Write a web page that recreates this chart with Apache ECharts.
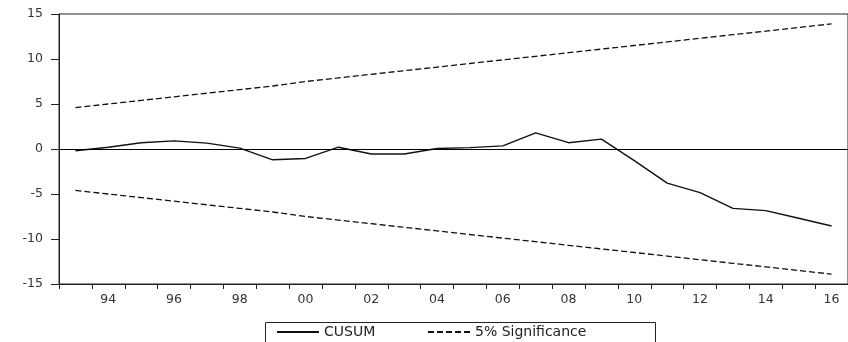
<!DOCTYPE html>
<html>
<head>
<meta charset="utf-8">
<script src="https://cdn.jsdelivr.net/npm/echarts@6/dist/echarts.min.js"></script>
<style>
html,body{margin:0;padding:0;background:#fff;}
#chart{width:848px;height:342px;}
</style>
</head>
<body>
<div id="chart"></div>
<script>
var years = ['1993','1994','1995','1996','1997','1998','1999','2000','2001','2002','2003','2004','2005','2006','2007','2008','2009','2010','2011','2012','2013','2014','2015','2016'];
var cusum = [-0.2, 0.2, 0.7, 0.9, 0.65, 0.1, -1.2, -1.05, 0.2, -0.55, -0.55, 0.05, 0.15, 0.35, 1.8, 0.7, 1.1, -1.3, -3.8, -4.85, -6.6, -6.85, -7.7, -8.55];
var upper5 = [4.6, 5.0, 5.4, 5.8, 6.2, 6.6, 7.0, 7.5, 7.9, 8.3, 8.7, 9.1, 9.5, 9.9, 10.3, 10.7, 11.1, 11.5, 11.9, 12.3, 12.7, 13.1, 13.5, 13.9];
var lower5 = [-4.6, -5.0, -5.4, -5.8, -6.2, -6.6, -7.0, -7.5, -7.9, -8.3, -8.7, -9.1, -9.5, -9.9, -10.3, -10.7, -11.1, -11.5, -11.9, -12.3, -12.7, -13.1, -13.5, -13.9];
var yTicks = {min: -15, max: 15, interval: 5};
var seriesNames = ['CUSUM', '5% Significance'];

var chart = echarts.init(document.getElementById('chart'), null, {renderer: 'canvas'});
var font = 'DejaVu Sans';
var legendText = {fontFamily: font, fontSize: 14, color: '#222'};
chart.setOption({
  animation: false,
  backgroundColor: '#fff',
  grid: {left: 59, top: 14, width: 797, height: 270, show: true, borderColor: '#222', borderWidth: 1, backgroundColor: 'transparent'},
  xAxis: {
    type: 'category', data: years, boundaryGap: true,
    axisLine: {show: true, onZero: false, lineStyle: {color: '#222', width: 1}},
    axisTick: {show: true, interval: 0, length: 5, inside: false, lineStyle: {color: '#222'}},
    axisLabel: {
      interval: function (i, v) { return (+v) % 2 === 0; },
      formatter: function (v) { return v.slice(2); },
      color: '#333', fontFamily: font, fontSize: 12.5, margin: 9
    },
    splitLine: {show: false}
  },
  yAxis: {
    type: 'value', min: yTicks.min, max: yTicks.max, interval: yTicks.interval,
    axisLine: {show: true, lineStyle: {color: '#222', width: 1}},
    axisTick: {show: true, length: 8, inside: false, lineStyle: {color: '#222'}},
    axisLabel: {color: '#333', fontFamily: font, fontSize: 12.5, margin: 16},
    splitLine: {show: false}
  },
  legend: [{
    data: [seriesNames[0]], left: 276, top: 325, itemWidth: 42, itemHeight: 10,
    itemStyle: {opacity: 0}, textStyle: legendText, padding: 0
  }, {
    data: [seriesNames[1]], left: 427, top: 325, itemWidth: 42, itemHeight: 10,
    itemStyle: {opacity: 0}, textStyle: legendText, padding: 0
  }],
  graphic: [{
    type: 'rect', left: 263, top: 320, shape: {width: 390, height: 30},
    style: {fill: 'none', stroke: '#222', lineWidth: 1}, silent: true
  }],
  series: [{
    name: seriesNames[0], type: 'line', data: cusum, symbol: 'none',
    lineStyle: {color: '#111', width: 1.4, type: 'solid'}, itemStyle: {color: '#111'},
    markLine: {silent: true, symbol: 'none', label: {show: false},
      lineStyle: {color: '#000', width: 1.2, type: 'solid'}, data: [{yAxis: 0}]}
  }, {
    name: seriesNames[1], type: 'line', data: upper5, symbol: 'none',
    lineStyle: {color: '#111', width: 1.3, type: [6, 3]}, itemStyle: {color: '#111'}
  }, {
    name: seriesNames[1], type: 'line', data: lower5, symbol: 'none',
    lineStyle: {color: '#111', width: 1.3, type: [6, 3]}, itemStyle: {color: '#111'}
  }]
});
</script>
</body>
</html>
